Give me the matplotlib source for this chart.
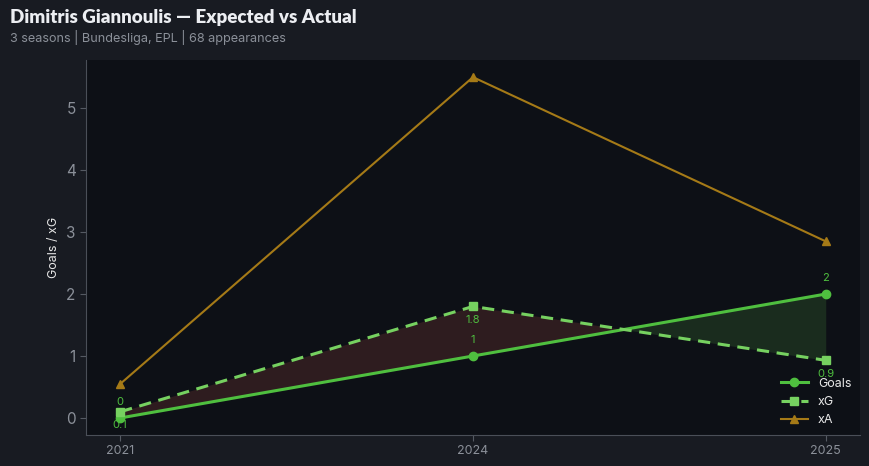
import matplotlib
matplotlib.use("Agg")
import matplotlib.pyplot as plt
import numpy as np

seasons = ["2021", "2024", "2025"]
goals = [0, 1, 2]
xg = [0.1, 1.8, 0.93]
xa = [0.55, 5.5, 2.85]

title = "Dimitris Giannoulis — Expected vs Actual"
subtitle = "3 seasons | Bundesliga, EPL | 68 appearances"

FIG_BG = "#181b22"
AX_BG = "#0d1016"
GOALS_C = "#4fbf3f"
XG_C = "#76d160"
XA_C = "#a57a17"
TICK_C = "#8b9099"

plt.rcParams['font.family'] = ['Inter', 'DejaVu Sans']

fig = plt.figure(figsize=(8.69, 4.66), dpi=100, facecolor=FIG_BG)
ax = fig.add_axes([0.099, 0.0665, 0.891, 0.8045])
ax.set_facecolor(AX_BG)

x = np.arange(len(seasons))
g = np.array(goals, dtype=float)
e = np.array(xg, dtype=float)

ax.fill_between(x, g, e, where=e >= g, interpolate=True, color="#2e1c1f", alpha=1.0, linewidth=0)
ax.fill_between(x, g, e, where=g >= e, interpolate=True, color="#1a2c1e", alpha=1.0, linewidth=0)

ax.plot(x, goals, color=GOALS_C, lw=2.2, marker="o", ms=6, label="Goals", zorder=4)
ax.plot(x, xg, color=XG_C, lw=2.2, ls=(0, (4, 2.5)), marker="s", ms=6, label="xG", zorder=4)
ax.plot(x, xa, color=XA_C, lw=1.5, marker="^", ms=6, label="xA", zorder=3)

for xi, v in zip(x, goals):
    ax.annotate(f"{round(v, 1):g}", (xi, v), xytext=(0, 8), textcoords="offset points",
                ha="center", va="bottom", color=GOALS_C, fontsize=8)
for xi, v in zip(x, xg):
    ax.annotate(f"{round(v, 1):g}", (xi, v), xytext=(0, -6), textcoords="offset points",
                ha="center", va="top", color=GOALS_C, fontsize=8)

ax.set_xticks(x)
ax.set_xticklabels(seasons)
ax.set_xlim(-0.097, 2.098)
ax.set_ylabel("Goals / xG", color="#e6e6e6", fontsize=9)

ax.tick_params(axis="y", colors=TICK_C, labelsize=11, length=4, color="#555a63")
ax.tick_params(axis="x", colors=TICK_C, labelsize=9, length=4, color="#555a63")
for s in ["top", "right"]:
    ax.spines[s].set_visible(False)
for s in ["left", "bottom"]:
    ax.spines[s].set_color("#4a4f58")

leg = ax.legend(loc="lower right", frameon=False, fontsize=9, labelcolor="#e8e8e8",
                borderaxespad=0.3, handlelength=2.2)

fig.text(0.0115, 0.963, title, fontsize=13.5, fontweight="heavy", color="#eceef2",
         ha="left", va="center", family=["Lato", "DejaVu Sans"])
fig.text(0.0115, 0.92, subtitle, fontsize=9.1, color="#8b9099", ha="left", va="center")

fig.savefig("out.png", dpi=100, facecolor=FIG_BG)
